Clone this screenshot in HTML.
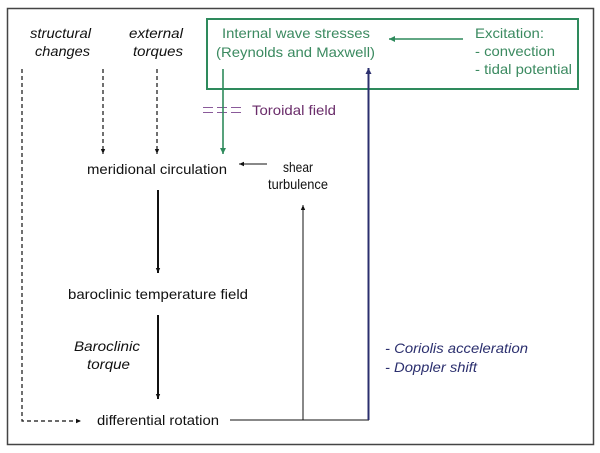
<!DOCTYPE html>
<html><head><meta charset="utf-8"><style>
html,body{margin:0;padding:0;background:#fff;}
svg{display:block;}
text{font-family:"Liberation Sans",Arial,sans-serif;font-size:14px;}
</style></head><body>
<svg width="600" height="453" viewBox="0 0 600 453" xmlns="http://www.w3.org/2000/svg">
<defs>
<marker id="ab" markerWidth="6" markerHeight="6" refX="5" refY="3" orient="auto" markerUnits="userSpaceOnUse"><path d="M0,0.8 L5,3 L0,5.2 Z" fill="#111"/></marker>
<marker id="ag" markerWidth="8" markerHeight="8" refX="6" refY="4" orient="auto" markerUnits="userSpaceOnUse"><path d="M0,1 L6,4 L0,7 Z" fill="#2e8a5c"/></marker>
<marker id="an" markerWidth="8" markerHeight="8" refX="6" refY="4" orient="auto" markerUnits="userSpaceOnUse"><path d="M0,1 L6,4 L0,7 Z" fill="#2b2f6e"/></marker>
</defs>
<rect x="7.5" y="8.5" width="586" height="436" fill="none" stroke="#444" stroke-width="1.5"/>
<rect x="207" y="19" width="371" height="70" fill="none" stroke="#2e8a5c" stroke-width="2"/>

<g font-style="italic" fill="#111">
<text x="30" y="38" textLength="61" lengthAdjust="spacingAndGlyphs">structural</text>
<text x="35" y="56" textLength="55" lengthAdjust="spacingAndGlyphs">changes</text>
<text x="129" y="38" textLength="54" lengthAdjust="spacingAndGlyphs">external</text>
<text x="133" y="56" textLength="50" lengthAdjust="spacingAndGlyphs">torques</text>
<text x="74" y="351" textLength="66" lengthAdjust="spacingAndGlyphs">Baroclinic</text>
<text x="87" y="369" textLength="43" lengthAdjust="spacingAndGlyphs">torque</text>
</g>
<g fill="#3b8a60">
<text x="222" y="38" textLength="148" lengthAdjust="spacingAndGlyphs">Internal wave stresses</text>
<text x="216" y="57" textLength="159" lengthAdjust="spacingAndGlyphs">(Reynolds and Maxwell)</text>
<text x="475" y="38" textLength="69" lengthAdjust="spacingAndGlyphs">Excitation:</text>
<text x="475" y="56" textLength="80" lengthAdjust="spacingAndGlyphs">- convection</text>
<text x="475" y="74" textLength="97" lengthAdjust="spacingAndGlyphs">- tidal potential</text>
</g>
<text x="252" y="115" fill="#6a2c6a" textLength="84" lengthAdjust="spacingAndGlyphs">Toroidal field</text>
<g fill="#111">
<text x="87" y="174" textLength="140" lengthAdjust="spacingAndGlyphs">meridional circulation</text>
<text x="283" y="172" font-size="13" textLength="30" lengthAdjust="spacingAndGlyphs">shear</text>
<text x="268" y="189" font-size="13" textLength="60" lengthAdjust="spacingAndGlyphs">turbulence</text>
<text x="68" y="299" textLength="180" lengthAdjust="spacingAndGlyphs">baroclinic temperature field</text>
<text x="97" y="425" textLength="122" lengthAdjust="spacingAndGlyphs">differential rotation</text>
</g>
<g fill="#2b2f6e" font-style="italic">
<text x="385" y="353" textLength="143" lengthAdjust="spacingAndGlyphs">- Coriolis acceleration</text>
<text x="385" y="372" textLength="92" lengthAdjust="spacingAndGlyphs">- Doppler shift</text>
</g>

<g stroke="#8a5a9a" stroke-width="1" stroke-dasharray="10,4">
<line x1="203" y1="107.5" x2="243" y2="107.5"/>
<line x1="203" y1="112.5" x2="243" y2="112.5"/>
</g>

<g stroke="#111" stroke-width="1.2" stroke-dasharray="4,3" fill="none">
<line x1="103" y1="69" x2="103" y2="154" marker-end="url(#ab)"/>
<line x1="157" y1="69" x2="157" y2="154" marker-end="url(#ab)"/>
<polyline points="22,69 22,421 81,421" marker-end="url(#ab)"/>
</g>

<line x1="223" y1="69" x2="223" y2="154" stroke="#2e8a5c" stroke-width="1.6" marker-end="url(#ag)"/>
<line x1="463" y1="39" x2="389" y2="39" stroke="#2e8a5c" stroke-width="1.6" marker-end="url(#ag)"/>

<line x1="267" y1="164" x2="239" y2="164" stroke="#111" stroke-width="1" marker-end="url(#ab)"/>
<line x1="158" y1="190" x2="158" y2="273" stroke="#111" stroke-width="2" marker-end="url(#ab)"/>
<line x1="158" y1="315" x2="158" y2="399" stroke="#111" stroke-width="2" marker-end="url(#ab)"/>
<polyline points="230,420 369,420" stroke="#111" stroke-width="1" fill="none"/>
<line x1="303" y1="420" x2="303" y2="205" stroke="#111" stroke-width="1" marker-end="url(#ab)"/>

<line x1="368.5" y1="420" x2="368.5" y2="68" stroke="#2b2f6e" stroke-width="2" marker-end="url(#an)"/>
</svg>
</body></html>
